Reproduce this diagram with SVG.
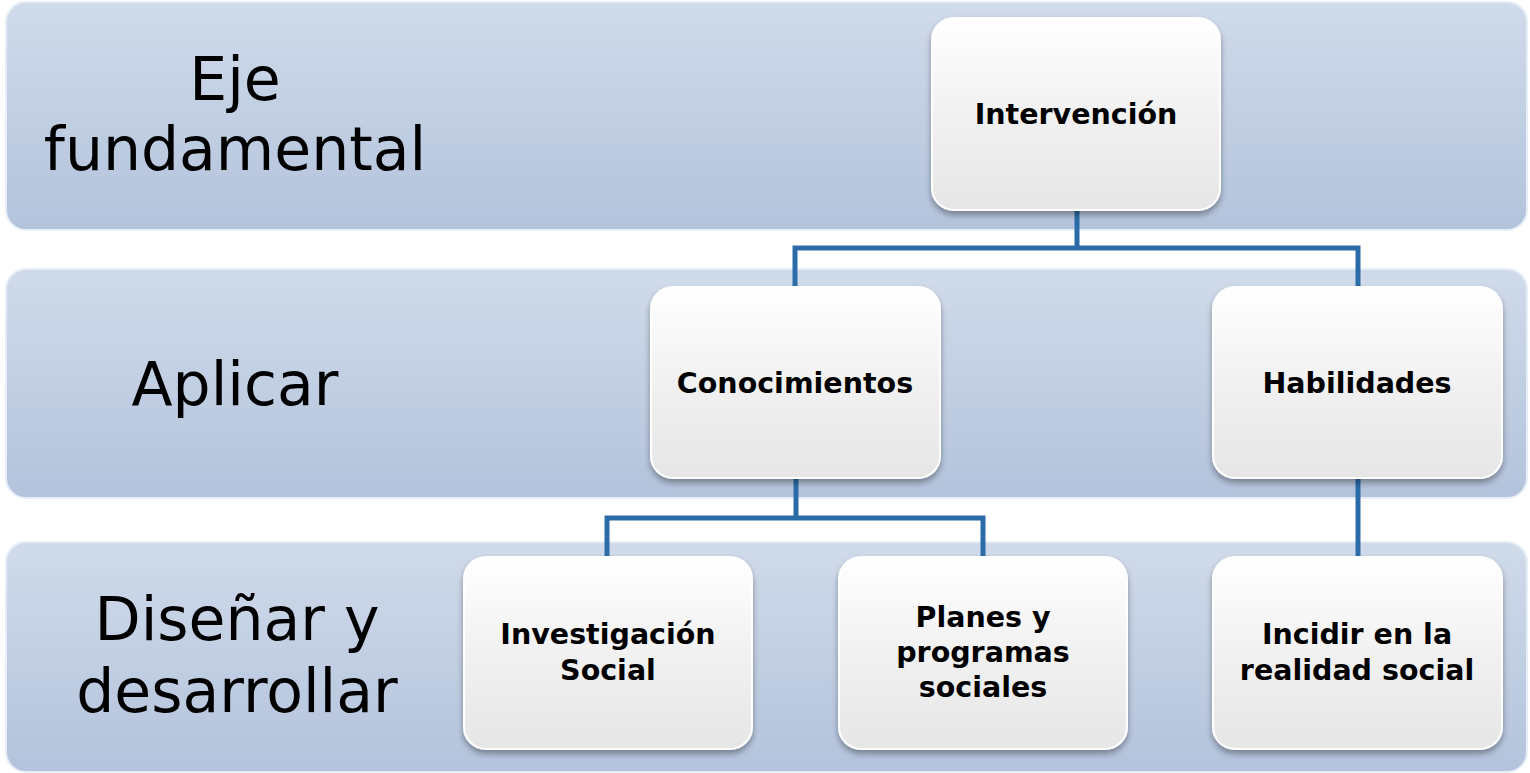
<svg xmlns="http://www.w3.org/2000/svg" width="1530" height="773" viewBox="0 0 1530 773">
<defs>
<linearGradient id="band" x1="0" y1="0" x2="0" y2="1">
<stop offset="0" stop-color="#d0dbea"/>
<stop offset="1" stop-color="#b3c3dc"/>
</linearGradient>
<linearGradient id="node" x1="0" y1="0" x2="0" y2="1">
<stop offset="0" stop-color="#ffffff"/>
<stop offset="0.5" stop-color="#f1f1f1"/>
<stop offset="1" stop-color="#e6e6e6"/>
</linearGradient>
<filter id="sh" x="-10%" y="-10%" width="120%" height="125%">
<feGaussianBlur in="SourceAlpha" stdDeviation="3"/>
<feOffset dx="0" dy="4" result="b"/>
<feComponentTransfer><feFuncA type="linear" slope="0.35"/></feComponentTransfer>
<feMerge><feMergeNode/><feMergeNode in="SourceGraphic"/></feMerge>
</filter>
</defs>
<style>
.band{fill:url(#band);stroke:#e6eef8;stroke-width:2}
.node{fill:url(#node);stroke:#ffffff;stroke-width:2;filter:url(#sh)}
.lbl{font-family:"DejaVu Sans",sans-serif;font-size:60px;fill:#000;text-anchor:middle}
.nt{font-family:"DejaVu Sans",sans-serif;font-weight:bold;font-size:28.5px;fill:#000;text-anchor:middle}
.conn{fill:none;stroke:#2b6ca8;stroke-width:5}
</style>
<rect width="1530" height="773" fill="#ffffff"/>
<g id="band1"><rect class="band" x="6" y="2" width="1521" height="228" rx="20"/><text class="lbl" x="235" y="100">Eje</text><text class="lbl" x="235" y="170">fundamental</text></g>
<g id="band2"><rect class="band" x="6" y="269" width="1521" height="229" rx="20"/><text class="lbl" x="235" y="405">Aplicar</text></g>
<g id="band3"><rect class="band" x="6" y="542" width="1521" height="230" rx="20"/><text class="lbl" x="237" y="640">Diseñar y</text><text class="lbl" x="237" y="712">desarrollar</text></g>
<g id="connectors">
<path class="conn" d="M1077 210 V248 M795 286 V248 H1358 V286"/>
<path class="conn" d="M796 478 V518 M607 556 V518 H983 V556"/>
<path class="conn" d="M1358 478 V556"/>
</g>
<g id="n-intervencion"><rect class="node" x="932" y="18" width="288" height="192" rx="22"/><text class="nt" x="1076" y="124">Intervención</text></g>
<g id="n-conocimientos"><rect class="node" x="651" y="287" width="289" height="191" rx="22"/><text class="nt" x="795" y="393">Conocimientos</text></g>
<g id="n-habilidades"><rect class="node" x="1213" y="287" width="289" height="191" rx="22"/><text class="nt" x="1357" y="393">Habilidades</text></g>
<g id="n-investigacion"><rect class="node" x="464" y="557" width="288" height="192" rx="22"/><text class="nt" x="608" y="644">Investigación</text><text class="nt" x="608" y="680">Social</text></g>
<g id="n-planes"><rect class="node" x="839" y="557" width="288" height="192" rx="22"/><text class="nt" x="983" y="627">Planes y</text><text class="nt" x="983" y="662">programas</text><text class="nt" x="983" y="697">sociales</text></g>
<g id="n-incidir"><rect class="node" x="1213" y="557" width="289" height="192" rx="22"/><text class="nt" x="1357" y="644">Incidir en la</text><text class="nt" x="1357" y="680">realidad social</text></g>
</svg>
